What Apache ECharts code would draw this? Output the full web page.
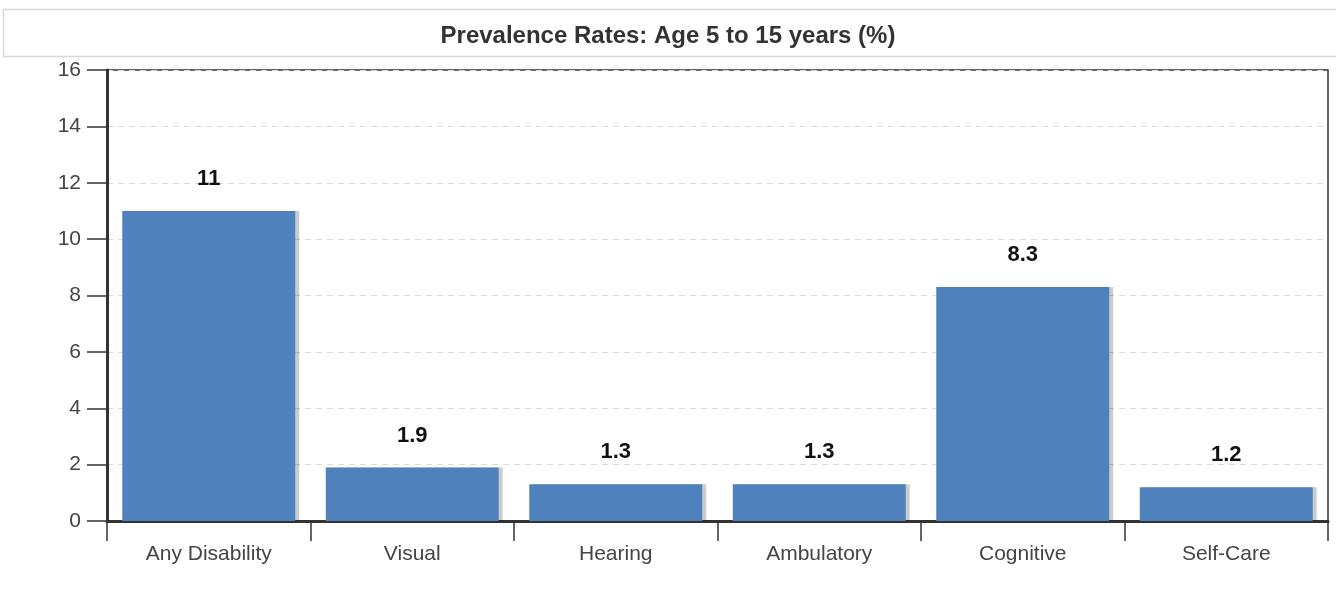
<!DOCTYPE html>
<html><head><meta charset="utf-8">
<script src="https://cdn.jsdelivr.net/npm/echarts@6/dist/echarts.min.js"></script>
<style>html,body{margin:0;padding:0;background:#fff}#c{width:1336px;height:615px}</style>
</head><body><div id="c"></div>
<script>
const categories = ['Any Disability','Visual','Hearing','Ambulatory','Cognitive','Self-Care'];
const values = [11, 1.9, 1.3, 1.3, 8.3, 1.2];
const yTicks = [0,2,4,6,8,10,12,14,16];
const titleText = 'Prevalence Rates: Age 5 to 15 years (%)';

const chart = echarts.init(document.getElementById('c'));
chart.setOption({
  animation: false,
  backgroundColor: '#fff',
  graphic: [{
    type: 'rect', shape: {x: 3.5, y: 9.5, width: 1340, height: 47},
    style: {fill: '#fff', stroke: '#d9d9d9', lineWidth: 1.5}, z: 0
  }],
  title: {
    text: titleText, left: 'center', top: 19,
    textStyle: {fontFamily: '"Liberation Sans", Arial', fontWeight: 'bold', fontSize: 24, color: '#333'}
  },
  grid: {left: 107, right: 8, top: 70, bottom: 94, show: true, borderColor: '#333', borderWidth: 1.5, backgroundColor: 'transparent'},
  xAxis: {
    type: 'category', data: categories,
    axisLine: {lineStyle: {color: '#333', width: 3}},
    axisTick: {show: true, interval: 0, length: 20, lineStyle: {color: '#333', width: 1.5}},
    axisLabel: {color: '#444', fontSize: 21, fontFamily: '"Liberation Sans", Arial', margin: 23, interval: 0}
  },
  yAxis: {
    type: 'value', min: yTicks[0], max: yTicks[yTicks.length-1], interval: 2,
    axisLine: {show: true, lineStyle: {color: '#333', width: 3}},
    axisTick: {show: true, length: 20, lineStyle: {color: '#333', width: 1.5}},
    axisLabel: {color: '#444', fontSize: 21, fontFamily: '"Liberation Sans", Arial', margin: 26},
    splitLine: {show: true, lineStyle: {color: '#d5dbe0', type: [6, 5], width: 1}}
  },
  series: [{
    type: 'bar', data: values, barCategoryGap: '15%',
    itemStyle: {color: '#4f81bd', shadowColor: 'rgba(0,0,0,0.2)', shadowOffsetX: 4, shadowOffsetY: 0, shadowBlur: 0},
    label: {show: true, position: 'top', distance: 21, color: '#111', fontWeight: 'bold', fontSize: 22,
      fontFamily: '"Liberation Sans", Arial'}
  }]
});
</script></body></html>
